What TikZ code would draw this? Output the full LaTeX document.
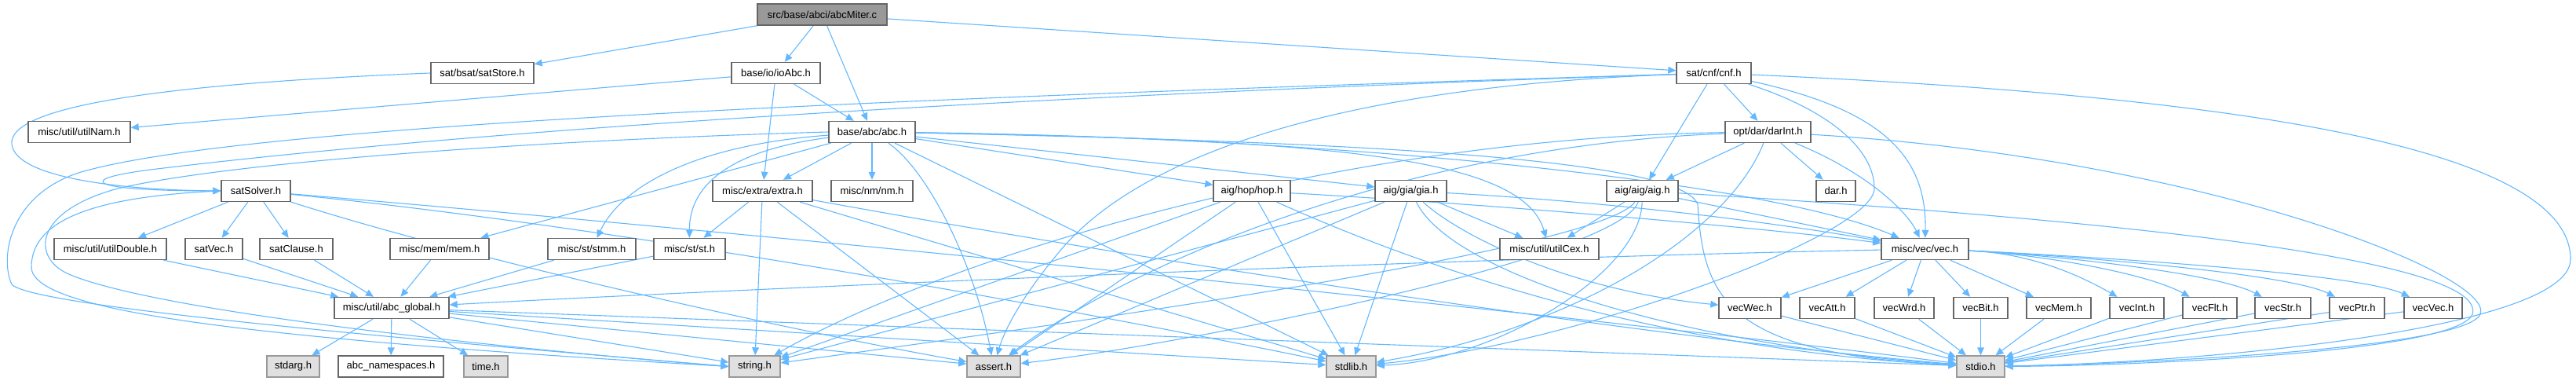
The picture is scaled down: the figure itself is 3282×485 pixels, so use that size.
\documentclass[tikz,border=0pt]{standalone}
\usepackage{fontspec}
\setmainfont{Liberation Sans}
\usepackage{xcolor}
\usetikzlibrary{arrows.meta,backgrounds}
\definecolor{edgeblue}{HTML}{63B8FF}
\definecolor{boxline}{HTML}{666666}
\definecolor{sysline}{HTML}{999999}
\definecolor{sysfill}{HTML}{E0E0E0}
\definecolor{rootfill}{HTML}{999999}
\tikzset{
  hfile/.style={draw=boxline,fill=white,line width=0.7pt,minimum height=13.5pt,inner xsep=1pt,inner ysep=0pt,
    font=\fontsize{6.5}{7.5}\selectfont},
  sysfile/.style={hfile,draw=sysline,fill=sysfill},
  rootfile/.style={hfile,fill=rootfill},
  dep/.style={draw=edgeblue,line width=0.55pt,-{Triangle[length=5pt,width=4.4pt]}}
}
\begin{document}
\begin{tikzpicture}[x=0.5pt,y=-0.5pt]
\useasboundingbox (0,0) rectangle (3282,485);
\node[rootfile,minimum width=82.5pt] (abcmiter) at (1047.5,18.5) {src/base/abci/abcMiter.c};
\node[hfile,minimum width=65.5pt] (satstore) at (614.5,93) {sat/bsat/satStore.h};
\node[hfile,minimum width=56.5pt] (ioabc) at (988.5,93) {base/io/ioAbc.h};
\node[hfile,minimum width=47.5pt] (cnf) at (2183.5,93) {sat/cnf/cnf.h};
\node[hfile,minimum width=65pt] (utilnam) at (101,168) {misc/util/utilNam.h};
\node[hfile,minimum width=55pt] (abc) at (1111,168) {base/abc/abc.h};
\node[hfile,minimum width=54.5pt] (darint) at (2252.5,168) {opt/dar/darInt.h};
\node[hfile,minimum width=44pt] (satsolver) at (326,243) {satSolver.h};
\node[hfile,minimum width=63.5pt] (extra) at (971.5,243) {misc/extra/extra.h};
\node[hfile,minimum width=52pt] (nm) at (1111,243) {misc/nm/nm.h};
\node[hfile,minimum width=49pt] (hop) at (1595,243) {aig/hop/hop.h};
\node[hfile,minimum width=45.5pt] (gia) at (1797.5,243) {aig/gia/gia.h};
\node[hfile,minimum width=45.5pt] (aig) at (2092.5,243) {aig/aig/aig.h};
\node[hfile,minimum width=25pt] (dar) at (2339,243) {dar.h};
\node[hfile,minimum width=71.5pt] (utildouble) at (140.5,317) {misc/util/utilDouble.h};
\node[hfile,minimum width=36.5pt] (satvec) at (272.5,317) {satVec.h};
\node[hfile,minimum width=46.5pt] (satclause) at (377.5,317) {satClause.h};
\node[hfile,minimum width=63pt] (mem) at (560,317) {misc/mem/mem.h};
\node[hfile,minimum width=56pt] (stmm) at (754,317) {misc/st/stmm.h};
\node[hfile,minimum width=45.5pt] (st) at (878.5,317) {misc/st/st.h};
\node[hfile,minimum width=63pt] (utilcex) at (1974,317) {misc/util/utilCex.h};
\node[hfile,minimum width=55.5pt] (vec) at (2452.5,317) {misc/vec/vec.h};
\node[hfile,minimum width=73pt] (abcglobal) at (499,392) {misc/util/abc\_global.h};
\node[hfile,minimum width=39.5pt] (vecwec) at (2229.5,392) {vecWec.h};
\node[hfile,minimum width=35pt] (vecatt) at (2328,392) {vecAtt.h};
\node[hfile,minimum width=38pt] (vecwrd) at (2426,392) {vecWrd.h};
\node[hfile,minimum width=34.5pt] (vecbit) at (2523.5,392) {vecBit.h};
\node[hfile,minimum width=41pt] (vecmem) at (2623,392) {vecMem.h};
\node[hfile,minimum width=34.5pt] (vecint) at (2722.5,392) {vecInt.h};
\node[hfile,minimum width=34.5pt] (vecflt) at (2815.5,392) {vecFlt.h};
\node[hfile,minimum width=35.5pt] (vecstr) at (2908.5,392) {vecStr.h};
\node[hfile,minimum width=35pt] (vecptr) at (3003,392) {vecPtr.h};
\node[hfile,minimum width=37pt] (vecvec) at (3100,392) {vecVec.h};
\node[sysfile,minimum width=33.5pt] (stdarg) at (373.5,466.5) {stdarg.h};
\node[hfile,minimum width=67pt] (abcns) at (498,466.5) {abc\_namespaces.h};
\node[sysfile,minimum width=28pt] (time) at (619,466.5) {time.h};
\node[sysfile,minimum width=32.5pt] (string) at (961.5,466.5) {string.h};
\node[sysfile,minimum width=34pt] (assert) at (1266,466.5) {assert.h};
\node[sysfile,minimum width=31.5pt] (stdlib) at (1721.5,466.5) {stdlib.h};
\node[sysfile,minimum width=30.5pt] (stdio) at (2523.5,466.5) {stdio.h};
\begin{pgfonlayer}{background}
% abcMiter.c
\draw[dep] (abcmiter) -- (satstore);
\draw[dep] (abcmiter) -- (ioabc);
\draw[dep] (abcmiter) -- (abc);
\draw[dep] (abcmiter) -- (cnf);
\draw[dep] (satstore.west) .. controls (250,105) and (20,130) .. (15,180) .. controls (12,225) and (150,242) .. (satsolver.west);
\draw[dep] (ioabc) -- (utilnam);
\draw[dep] (ioabc) -- (abc);
\draw[dep] (ioabc) -- (extra);
% cnf.h
\draw[dep] (cnf) .. controls (1000,132) and (450,185) .. (200,215) .. controls (90,228) and (110,243) .. (satsolver.west);
\draw[dep] (cnf) .. controls (1100,126) and (300,160) .. (100,220) .. controls (10,250) and (0,330) .. (15,362) .. controls (40,390) and (500,430) .. (string.west);
\draw[dep] (cnf) -- (darint);
\draw[dep] (cnf) -- (aig);
\draw[dep] (cnf) .. controls (2400,140) and (2455,200) .. (vec);
\draw[dep] (cnf) .. controls (2330,140) and (2388,190) .. (2388,240) .. controls (2388,300) and (2000,440) .. (stdlib);
\draw[dep] (cnf) .. controls (1700,110) and (1450,200) .. (1350,320) .. controls (1300,380) and (1280,420) .. (assert);
\draw[dep] (cnf) .. controls (2800,120) and (3275,180) .. (3275,330) .. controls (3275,420) and (2800,462) .. (stdio);
% abc.h
\draw[dep] (abc) -- (extra);
\draw[dep] (abc) -- (nm);
\draw[dep] (abc) -- (hop);
\draw[dep] (abc) -- (gia);
\draw[dep] (abc) .. controls (1700,175) and (2250,230) .. (vec);
\draw[dep] (abc) .. controls (1700,178) and (1940,200) .. (utilcex);
\draw[dep] (abc) .. controls (1700,180) and (2140,200) .. (2163,260) .. controls (2170,380) and (2200,450) .. (stdio);
\draw[dep] (abc) -- (mem);
\draw[dep] (abc) .. controls (880,185) and (790,240) .. (stmm);
\draw[dep] (abc) .. controls (940,190) and (878,230) .. (st);
\draw[dep] (abc) .. controls (1180,215) and (1240,330) .. (assert);
\draw[dep] (abc) -- (stdlib);
\draw[dep] (abc.west) .. controls (700,178) and (300,205) .. (150,240) .. controls (40,270) and (40,330) .. (90,350) .. controls (200,395) and (600,440) .. (string.west);
% extra.h
\draw[dep] (extra) -- (st);
\draw[dep] (extra) -- (string);
\draw[dep] (extra) -- (assert);
\draw[dep] (extra) -- (stdlib);
\draw[dep] (extra) .. controls (1450,330) and (2100,430) .. (stdio);
% satSolver.h
\draw[dep] (satsolver) -- (utildouble);
\draw[dep] (satsolver) -- (satvec);
\draw[dep] (satsolver) -- (satclause);
\draw[dep] (satsolver) .. controls (600,330) and (1000,420) .. (assert);
\draw[dep] (satsolver) .. controls (800,290) and (1400,400) .. (stdlib);
\draw[dep] (satsolver) .. controls (1000,300) and (2000,400) .. (stdio);
\draw[dep] (satsolver.west) .. controls (120,250) and (40,280) .. (40,340) .. controls (40,395) and (300,430) .. (string.west);
% abc_global.h
\foreach \n in {utildouble,satvec,satclause,mem,stmm,st} \draw[dep] (\n) -- (abcglobal);
\draw[dep] (vec) .. controls (1800,330) and (900,370) .. (abcglobal);
\foreach \n in {stdarg,abcns,time,string,assert,stdlib,stdio} \draw[dep] (abcglobal) -- (\n);
% hop.h, gia.h, aig.h
\foreach \n in {string,assert,stdlib} \draw[dep] (hop) -- (\n);
\draw[dep] (hop) .. controls (1900,260) and (2250,290) .. (vec);
\draw[dep] (hop) .. controls (1900,380) and (2200,450) .. (stdio);
\foreach \n in {string,assert,stdlib,utilcex} \draw[dep] (gia) -- (\n);
\draw[dep] (gia) .. controls (2100,260) and (2300,290) .. (vec);
\draw[dep] (gia) .. controls (1860,300) and (2000,370) .. (vecwec);
\draw[dep] (gia) .. controls (1850,350) and (2150,440) .. (stdio);
\draw[dep] (aig) -- (utilcex);
\draw[dep] (aig) -- (vec);
\draw[dep] (aig) .. controls (2040,320) and (1300,420) .. (string);
\draw[dep] (aig) .. controls (2060,330) and (1500,440) .. (assert);
\draw[dep] (aig) .. controls (2090,350) and (1900,460) .. (stdlib);
\draw[dep] (aig) .. controls (2700,280) and (3170,330) .. (3150,400) .. controls (3130,450) and (2700,466) .. (stdio);
% darInt.h
\draw[dep] (darint) -- (aig);
\draw[dep] (darint) -- (dar);
\draw[dep] (darint) .. controls (2380,220) and (2430,270) .. (vec);
\draw[dep] (darint) .. controls (2800,200) and (3180,350) .. (3160,400) .. controls (3140,445) and (2700,464) .. (stdio);
\draw[dep] (darint) .. controls (1700,175) and (1200,330) .. (string);
\draw[dep] (darint) .. controls (1800,185) and (1450,330) .. (assert);
\draw[dep] (darint) .. controls (2200,300) and (2000,420) .. (stdlib);
% vec.h
\foreach \n in {vecwec,vecatt,vecwrd,vecbit,vecmem} \draw[dep] (vec) -- (\n);
\foreach \n/\cx in {vecint/2640,vecflt/2730,vecstr/2820,vecptr/2910,vecvec/3000}
  \draw[dep] (vec) .. controls (2580,322) and (\cx,345) .. (\n);
\foreach \n in {vecwec,vecatt,vecwrd,vecbit,vecmem,vecint,vecflt,vecstr,vecptr,vecvec} \draw[dep] (\n) -- (stdio);
\end{pgfonlayer}
\end{tikzpicture}
\end{document}
